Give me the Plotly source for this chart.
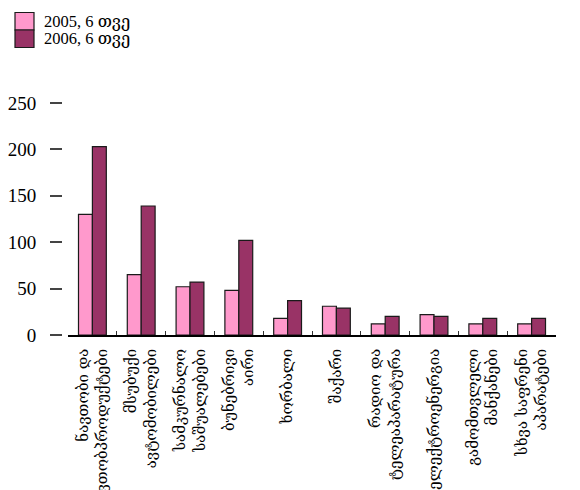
import plotly.graph_objects as go

# Import values by commodity group, first six months of 2005 and 2006
categories = [
    "ნავთობი და<br>ნავთობპროდუქტები",
    "მსუბუქი<br>ავტომობილები",
    "სამკურნალო<br>საშუალებები",
    "ბუნებრივი<br>აირი",
    "ხორბალი",
    "შაქარი",
    "რადიო და<br>ტელეაპარატურა",
    "ელექტროენერგია",
    "გამომთვლელი<br>მანქანები",
    "სხვა საფრენი<br>აპარატები",
]
series_names = ["2005, 6 თვე", "2006, 6 თვე"]
values_2005 = [130, 65, 52, 48, 18, 31, 12, 22, 12, 12]
values_2006 = [203, 139, 57, 102, 37, 29, 20, 20, 18, 18]
y_ticks = [0, 50, 100, 150, 200, 250]

colors = ["#FF99CC", "#993366"]
W, H = 580, 490
serif = "Liberation Serif, 'Times New Roman', DejaVu Serif, serif"
geo_font = "DejaVu Serif, Liberation Serif, serif"

fig = go.Figure()
for name, vals, col in zip(series_names, [values_2005, values_2006], colors):
    fig.add_trace(go.Bar(
        x=categories, y=vals, name=name,
        marker=dict(color=col, line=dict(color="#1a1a1a", width=1.2)),
        showlegend=False,
    ))

# Legend drawn as stacked swatches with labels at the top left
for i, (name, col) in enumerate(zip(series_names, colors)):
    y0 = 12.5 + i * 17.5
    fig.add_shape(type="rect", xref="paper", yref="paper",
                  x0=15 / W, x1=34 / W,
                  y0=(335 - (y0 + 17.5)) / 232, y1=(335 - y0) / 232,
                  fillcolor=col, line=dict(color="#1a1a1a", width=1.2))
    fig.add_annotation(text=name, xref="paper", yref="paper",
                       x=42 / W, y=(335 - (y0 + 9)) / 232,
                       xanchor="left", yanchor="middle", showarrow=False,
                       font=dict(family=serif, size=16.5, color="black"))

fig.update_layout(
    width=W, height=H,
    margin=dict(l=0, r=0, t=103, b=155),
    paper_bgcolor="white", plot_bgcolor="white",
    barmode="group", bargap=0.43, bargroupgap=0,
    xaxis=dict(
        domain=[68 / W, 556 / W],
        showline=True, linecolor="black", linewidth=1.5,
        ticks="inside", tickson="boundaries", ticklen=4, tickcolor="#333",
        tickangle=-90, ticklabelstandoff=6,
        tickfont=dict(family=geo_font, size=15, color="black"),
        showgrid=False, zeroline=False, automargin=False,
    ),
    yaxis=dict(
        range=[0, 250], tickvals=y_ticks,
        anchor="free", position=62 / W,
        showline=False, showgrid=False, zeroline=False,
        ticks="outside", ticklen=12, tickwidth=1.5, tickcolor="#444",
        ticklabelstandoff=10,
        tickfont=dict(family=serif, size=19, color="black"),
        automargin=False,
    ),
    yaxis2=dict(
        range=[0, 250], tickvals=y_ticks, overlaying="y",
        anchor="free", position=569 / W, side="right",
        showline=False, showgrid=False, zeroline=False, showticklabels=False,
        ticks="outside", ticklen=12, tickwidth=1.5, tickcolor="#777",
        automargin=False,
    ),
)

fig.write_html("out.html")
